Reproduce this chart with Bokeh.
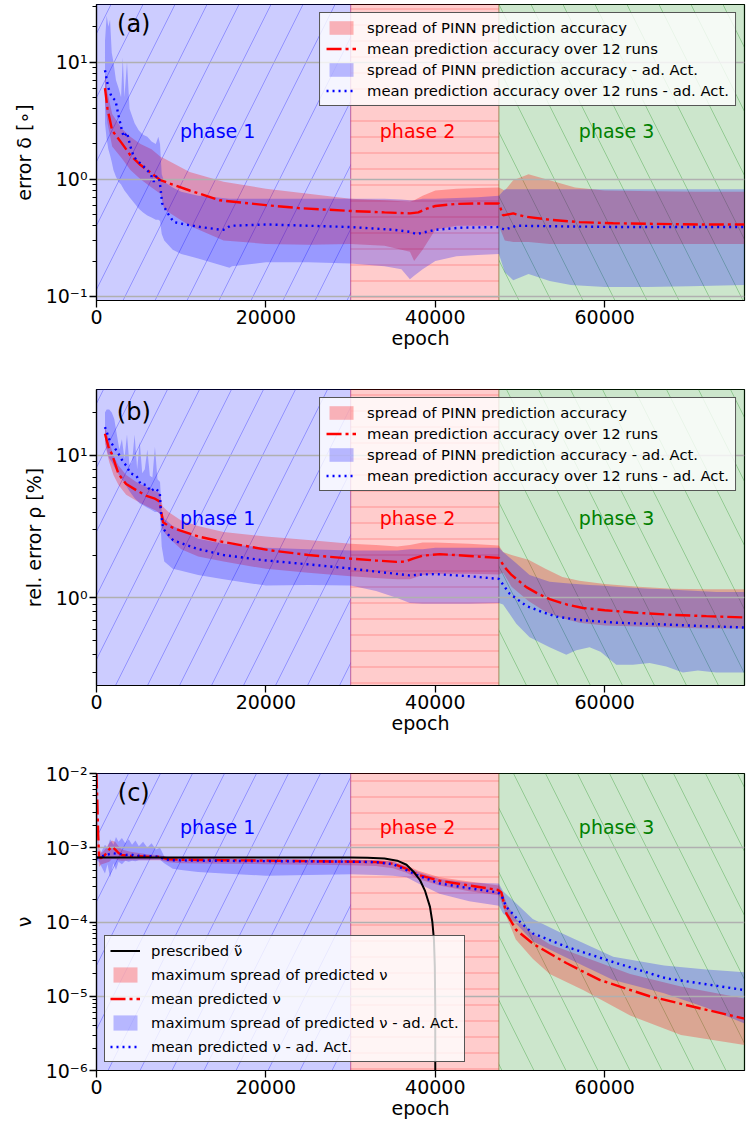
import numpy as np
from bokeh.plotting import figure
from bokeh.models import Range1d, FixedTicker, CustomJSTickFormatter, Legend, LegendItem, Label
from bokeh.layouts import column
from bokeh.embed import file_html
from bokeh.resources import INLINE

FONT = "DejaVu Sans"
X_MAX = 76500
phase_edges = [0, 30000, 47500, 76500]
phase_names = ["phase 1", "phase 2", "phase 3"]
phase_colors = ["blue", "red", "green"]
phase_text_colors = ["blue", "red", "green"]
phase_hatch = ["/", "-", "\\"]
phase_label_x = [14300, 37900, 61400]
x_ticks = [0, 20000, 40000, 60000]

# ---------------- panel (a): error delta ----------------
a_red_x = [1000, 1300, 1850, 3000, 4000, 5200, 6500, 7550, 11000, 14550, 20000, 24000, 30000, 34000, 37000,
           38000, 39000, 40000, 42500, 45000, 47500, 48000, 49200, 50500, 53500, 57000, 61000, 66000, 71000, 76500]
a_red_mean = [6.0, 4.0, 2.6, 2.02, 1.6, 1.32, 1.12, 0.98, 0.80, 0.66, 0.60, 0.565, 0.535, 0.52, 0.51,
              0.52, 0.56, 0.59, 0.615, 0.62, 0.62, 0.49, 0.51, 0.48, 0.45, 0.43, 0.42, 0.415, 0.41, 0.41]
a_redband_x = [1000, 1300, 1850, 3000, 4000, 5200, 6500, 7550, 8000, 11000, 15000, 20000, 25000, 30000, 34000, 37000,
               37500, 38500, 40000, 42500, 45000, 47500, 48200, 49200, 51000, 53500, 56500, 60000, 66000, 71000, 76500]
a_red_hi = [8.0, 5.5, 3.6, 2.7, 2.3, 2.0, 1.8, 1.55, 1.5, 1.15, 0.95, 0.83, 0.75, 0.68, 0.66, 0.64,
            0.66, 0.72, 0.80, 0.83, 0.84, 0.85, 0.80, 0.98, 1.10, 0.98, 0.85, 0.80, 0.79, 0.78, 0.78]
a_red_lo = [4.5, 3.0, 1.9, 1.5, 1.2, 1.0, 0.85, 0.75, 0.55, 0.40, 0.30, 0.28, 0.275, 0.28, 0.27, 0.24,
            0.20, 0.25, 0.37, 0.40, 0.40, 0.40, 0.30, 0.29, 0.29, 0.28, 0.28, 0.28, 0.28, 0.28, 0.28]
a_blue_x = [1000, 1400, 1800, 2240, 2600, 3000, 3220, 3600, 4000, 4400, 5000, 5500, 5980, 6400, 6760, 7000, 7350,
            7550, 7750, 8500, 9120, 10500, 12270, 14630, 15000, 15810, 20140, 25000, 30000, 32340, 35000, 37000,
            37760, 40120, 43000, 47500, 48200, 49560, 55000, 62000, 70000, 76500]
a_blue_mean = [8.5, 6.0, 5.0, 4.7, 3.5, 2.6, 2.3, 2.5, 1.9, 1.55, 1.4, 1.3, 1.19, 1.1, 0.95, 1.05, 1.05,
               0.85, 0.62, 0.50, 0.43, 0.41, 0.39, 0.37, 0.37, 0.40, 0.41, 0.40, 0.39, 0.38, 0.37, 0.355,
               0.34, 0.37, 0.385, 0.39, 0.37, 0.40, 0.395, 0.39, 0.39, 0.39]
a_blueband_x = [1000, 1200, 1400, 1600, 1800, 2000, 2300, 2600, 2900, 3100, 3300, 3600, 3900, 4500, 5000, 5500,
                6000, 6500, 7000, 7300, 7500, 7700, 8000, 9000, 10000, 12000, 14000, 15700, 16000, 20000, 25000,
                30000, 34000, 36000, 37000, 37500, 38500, 40000, 42500, 45000, 47500, 48200, 49200, 51000, 53500,
                56000, 60000, 65000, 70000, 76500]
a_blue_hi = [15, 25, 20, 23, 12, 10, 7, 6, 5, 11, 5, 10, 4, 3.0, 2.6, 2.4,
             2.3, 2.1, 2.0, 2.3, 2.0, 1.1, 0.95, 0.85, 0.78, 0.72, 0.70, 0.68, 0.68, 0.68, 0.68,
             0.68, 0.68, 0.67, 0.66, 0.66, 0.68, 0.68, 0.69, 0.70, 0.72, 0.82, 0.82, 0.82, 0.82,
             0.82, 0.82, 0.82, 0.82, 0.82]
a_blue_lo = [3.0, 2.2, 1.8, 1.6, 1.4, 1.2, 1.05, 0.95, 0.9, 0.85, 0.8, 0.75, 0.7, 0.62, 0.56, 0.52,
             0.49, 0.47, 0.45, 0.45, 0.44, 0.34, 0.30, 0.25, 0.23, 0.21, 0.19, 0.175, 0.18, 0.195, 0.195,
             0.19, 0.18, 0.17, 0.14, 0.15, 0.17, 0.20, 0.22, 0.225, 0.23, 0.16, 0.137, 0.155, 0.135,
             0.125, 0.12, 0.12, 0.122, 0.125]

# ---------------- panel (b): rel. error rho ----------------
b_red_x = [1000, 1500, 1800, 2600, 3500, 4700, 5900, 6800, 7470, 7650, 7870, 8500, 9830, 12000, 14950, 20450,
           25000, 29900, 33000, 35400, 36500, 37370, 38500, 40510, 44000, 47500, 48190, 49000, 50750, 52000,
           53500, 55500, 57440, 60000, 63340, 68000, 72000, 76500]
b_red_mean = [14.2, 11.0, 10.3, 7.4, 6.3, 5.7, 5.2, 5.0, 4.75, 4.0, 3.4, 3.2, 2.98, 2.7, 2.47, 2.16,
              2.0, 1.89, 1.83, 1.79, 1.80, 1.89, 1.98, 2.03, 1.97, 1.91, 1.64, 1.45, 1.19, 1.08,
              0.98, 0.9, 0.85, 0.82, 0.79, 0.76, 0.745, 0.73]
b_redband_x = [1000, 1500, 2000, 2600, 3500, 4700, 5900, 7000, 7500, 7800, 8500, 10000, 12000, 15000, 20000,
               25000, 30000, 33000, 35500, 37000, 38500, 40000, 44000, 47500, 48000, 49000, 51000, 53000, 55000,
               57000, 60000, 64000, 68000, 72000, 76500]
b_red_hi = [16, 12.5, 10, 8.5, 7.3, 6.5, 6.0, 5.6, 5.4, 4.4, 4.0, 3.5, 3.2, 2.9, 2.7,
            2.55, 2.4, 2.35, 2.3, 2.35, 2.45, 2.45, 2.4, 2.33, 2.1, 2.0, 1.85, 1.6, 1.4,
            1.32, 1.25, 1.2, 1.16, 1.15, 1.15]
b_red_lo = [12, 9, 7.3, 6.2, 5.3, 4.8, 4.4, 4.1, 3.9, 3.0, 2.65, 2.2, 1.95, 1.8, 1.6,
            1.5, 1.42, 1.38, 1.35, 1.35, 1.45, 1.48, 1.48, 1.46, 1.5, 1.2, 0.95, 0.8, 0.72,
            0.67, 0.64, 0.63, 0.62, 0.61, 0.61]
b_blue_x = [1000, 1500, 1800, 2500, 3140, 3500, 4000, 4720, 5200, 5900, 6400, 6900, 7470, 7600, 7870, 9050,
            11800, 15000, 19670, 25000, 29900, 33000, 36970, 38500, 40000, 44000, 47500, 48780, 50740, 52500,
            54300, 57000, 61360, 66000, 70000, 76500]
b_blue_mean = [15.8, 13, 12.1, 10.5, 9.0, 8.5, 7.5, 7.2, 6.3, 6.2, 5.6, 5.9, 5.5, 4.0, 3.06, 2.54,
               2.22, 2.0, 1.84, 1.72, 1.61, 1.53, 1.44, 1.46, 1.47, 1.42, 1.36, 1.07, 0.88, 0.80,
               0.74, 0.70, 0.67, 0.655, 0.64, 0.62]
b_blueband_x = [1000, 1200, 1500, 1800, 2100, 2400, 2700, 3000, 3300, 3600, 3900, 4200, 4500, 4800, 5100, 5400,
                5700, 6000, 6300, 6600, 6900, 7200, 7500,
                7700, 8000, 9000, 10000, 12000, 15000, 20000, 25000, 30000, 33000, 35500, 37000, 38500, 40000,
                44000, 47500,
                48000, 49560, 51130, 53490, 55460, 56640, 58210, 59500, 61360, 63330, 65290, 67260, 69230, 71000,
                73160, 76500]
b_blue_hi = [20, 21, 21, 20, 18, 14, 11, 13, 9.5, 14, 8.5, 9, 14, 8, 12.5, 7.5,
             8, 11, 7.2, 7, 11.5, 6.8, 6.5,
             4.0, 3.6, 3.2, 3.0, 2.6, 2.4, 2.25, 2.2, 2.15, 2.15, 2.15, 2.2, 2.2, 2.25,
             2.25, 2.25,
             2.1, 1.75, 1.45, 1.3, 1.27, 1.25, 1.23, 1.22, 1.2, 1.18, 1.16, 1.15, 1.13, 1.12,
             1.1, 1.1]
b_blue_lo = [13, 11, 9.5, 9.0, 8.3, 7.8, 7.2, 6.8, 6.4, 6.0, 5.6, 5.3, 5.0, 4.8, 4.6, 4.5,
             4.4, 4.3, 4.2, 4.1, 4.0, 4.0, 3.9,
             2.3, 1.8, 1.6, 1.55, 1.45, 1.35, 1.22, 1.23, 1.22, 1.12, 1.0, 0.92, 0.91, 0.91,
             0.91, 0.92,
             0.9, 0.66, 0.53, 0.45, 0.40, 0.43, 0.45, 0.42, 0.34, 0.34, 0.35, 0.33, 0.30, 0.31,
             0.30, 0.30]

# ---------------- panel (c): nu ----------------
c_presc_x = [0, 30000, 32000, 34000, 35500, 36600, 37400, 38200, 38800, 39370, 39650, 39840, 39940, 39990, 40000]
c_presc = [7.4e-4, 7.4e-4, 7.35e-4, 7.15e-4, 6.7e-4, 5.9e-4, 4.8e-4, 3.65e-4, 2.6e-4, 1.6e-4, 1.0e-4,
           5.7e-5, 2.5e-5, 7e-6, 1e-7]
c_red_x = [0, 100, 200, 300, 500, 800, 1200, 1500, 1800, 2200, 2600, 3000, 4000, 5000, 6000, 7000, 7500, 8500,
           10000, 15000, 20000, 25000, 30000, 33000, 35000, 36600, 38000, 40500, 43660, 47400, 47800, 48380,
           49560, 51530, 55460, 59390, 65290, 71190, 76500]
c_red_mean = [1e-2, 4e-3, 1.5e-3, 7.5e-4, 7.2e-4, 7.6e-4, 8.5e-4, 9.5e-4, 1.03e-3, 9.5e-4, 8.5e-4, 8.0e-4,
              7.8e-4, 7.7e-4, 7.6e-4, 7.6e-4, 7.5e-4, 7.0e-4, 6.9e-4, 6.8e-4, 6.7e-4, 6.6e-4, 6.5e-4, 6.4e-4,
              6.1e-4, 5.2e-4, 4.3e-4, 3.6e-4, 3.15e-4, 2.7e-4, 2.5e-4, 1.31e-4, 7.8e-5, 5.1e-5, 2.8e-5,
              1.66e-5, 1.0e-5, 6.9e-6, 5.0e-6]
c_redband_x = [0, 100, 200, 300, 600, 1000, 1500, 1800, 2200, 2600, 3000, 4000, 5000, 6000, 7000, 7500, 8500,
               10000, 15000, 20000, 25000, 30000, 33000, 35000, 36600, 38000, 40500, 44000, 47500, 48000, 48500,
               49500, 51500, 53500, 57500, 63000, 69000, 76500]
c_red_hi = [1.1e-2, 6e-3, 2e-3, 1.0e-3, 8.5e-4, 9.5e-4, 1.15e-3, 1.25e-3, 1.2e-3, 1.05e-3, 9.5e-4, 8.8e-4,
            8.5e-4, 8.2e-4, 8.0e-4, 7.9e-4, 7.4e-4, 7.3e-4, 7.2e-4, 7.1e-4, 7.0e-4, 6.9e-4, 6.8e-4, 6.6e-4,
            5.8e-4, 4.9e-4, 4.0e-4, 3.5e-4, 3.1e-4, 2.4e-4, 1.7e-4, 1.1e-4, 7.0e-5, 5.0e-5, 3.4e-5, 2.0e-5,
            1.35e-5, 9.3e-6]
c_red_lo = [6e-3, 2e-3, 8e-4, 5.5e-4, 6.0e-4, 6.2e-4, 6.5e-4, 7.0e-4, 7.0e-4, 6.8e-4, 6.7e-4, 6.8e-4,
            6.8e-4, 6.8e-4, 6.8e-4, 6.8e-4, 6.4e-4, 6.2e-4, 6.1e-4, 6.0e-4, 5.9e-4, 5.8e-4, 5.7e-4, 5.3e-4,
            4.6e-4, 3.8e-4, 3.1e-4, 2.6e-4, 2.3e-4, 1.6e-4, 1.1e-4, 5.8e-5, 3.2e-5, 2.0e-5, 1.2e-5, 5.5e-6,
            3.0e-6, 2.2e-6]
c_blue_x = [0, 200, 500, 1000, 1500, 2000, 2500, 3000, 3500, 4000, 4500, 5000, 5500, 6000, 6500, 7000, 7500,
            8000, 9000, 12000, 20000, 30000, 33000, 35000, 36600, 38000, 40550, 44000, 47400, 47800, 48380,
            50000, 51530, 55460, 61360, 67260, 72000, 76500]
c_blue_mean = [7.2e-4, 7.4e-4, 7.6e-4, 7.9e-4, 8.2e-4, 8.4e-4, 8.3e-4, 8.2e-4, 8.0e-4, 8.1e-4, 7.9e-4,
               7.8e-4, 7.8e-4, 7.7e-4, 7.7e-4, 7.6e-4, 7.5e-4, 7.0e-4, 6.8e-4, 6.7e-4, 6.6e-4, 6.5e-4,
               6.4e-4, 6.0e-4, 5.0e-4, 4.2e-4, 3.3e-4, 2.85e-4, 2.5e-4, 2.3e-4, 1.6e-4, 1.0e-4, 7.0e-5,
               4.65e-5, 2.8e-5, 1.74e-5, 1.45e-5, 1.21e-5]
c_blueband_x = [0, 300, 600, 1000, 1300, 1600, 2000, 2300, 2600, 3000, 3400, 3800, 4200, 4600, 5000, 5500,
                6000, 6500, 7000, 7500, 8000, 9000, 10000, 12000, 15000, 20000, 25000, 30000, 33000, 35000,
                36600, 38000, 40500, 44000, 47500, 48000, 49500, 51500, 55000, 61000, 67000, 72000, 76500]
c_blue_hi = [7.6e-4, 7.8e-4, 9e-4, 1.1e-3, 1.0e-3, 1.3e-3, 1.1e-3, 1.4e-3, 1.2e-3, 1.35e-3, 1.15e-3,
             1.3e-3, 1.1e-3, 1.25e-3, 1.05e-3, 1.2e-3, 1.0e-3, 1.15e-3, 9.5e-4, 1.0e-3, 7.6e-4, 7.4e-4,
             7.3e-4, 7.2e-4, 7.1e-4, 7.0e-4, 6.9e-4, 6.9e-4, 6.8e-4, 6.5e-4, 5.6e-4, 4.7e-4, 3.8e-4,
             3.4e-4, 3.3e-4, 2.6e-4, 1.8e-4, 1.1e-4, 7.0e-5, 3.4e-5, 2.6e-5, 2.3e-5, 2.1e-5]
c_blue_lo = [6.8e-4, 6.5e-4, 5.5e-4, 4.5e-4, 6.0e-4, 4.0e-4, 6.2e-4, 5.0e-4, 6.5e-4, 6.0e-4, 6.7e-4,
             6.5e-4, 6.7e-4, 6.6e-4, 6.8e-4, 6.8e-4, 6.8e-4, 6.9e-4, 6.9e-4, 6.9e-4, 6.2e-4, 5.2e-4,
             5.0e-4, 4.7e-4, 4.5e-4, 4.2e-4, 4.3e-4, 4.4e-4, 4.3e-4, 4.2e-4, 4.0e-4, 3.3e-4, 2.4e-4,
             1.9e-4, 1.65e-4, 1.3e-4, 9.6e-5, 5.5e-5, 3.5e-5, 1.66e-5, 1.1e-5, 7e-6, 4.3e-6]

legend_ab = ["spread of PINN prediction accuracy",
             "mean prediction accuracy over 12 runs",
             "spread of PINN prediction accuracy - ad. Act.",
             "mean prediction accuracy over 12 runs - ad. Act."]
legend_c = ["prescribed \u03bd\u0303",
            "maximum spread of predicted \u03bd",
            "mean predicted \u03bd",
            "maximum spread of predicted \u03bd - ad. Act.",
            "mean predicted \u03bd - ad. Act."]

SUP_JS = """
const e = Math.round(Math.log10(tick));
const sup = {"-": "\u207b", "0": "\u2070", "1": "\u00b9", "2": "\u00b2", "3": "\u00b3",
             "4": "\u2074", "5": "\u2075", "6": "\u2076", "7": "\u2077", "8": "\u2078", "9": "\u2079"};
return "10" + String(e).split("").map(c => sup[c]).join("");
"""


def make_panel(yr, exps, ylabel, top_border, bottom_border, frame_h, tag, tag_y, phase_y):
    p = figure(frame_width=648, frame_height=frame_h,
               x_range=Range1d(0, X_MAX), y_range=Range1d(yr[0], yr[1]),
               y_axis_type="log", output_backend="svg", toolbar_location=None,
               min_border_left=96, min_border_right=2,
               min_border_top=top_border, min_border_bottom=bottom_border,
               background_fill_color="white", border_fill_color="white")
    p.outline_line_color = "black"
    p.outline_line_width = 1.2
    p.outline_line_alpha = 1.0
    p.xgrid.visible = False
    p.ygrid.grid_line_color = "#b0b0b0"
    p.ygrid.grid_line_width = 1.4
    p.yaxis.ticker = FixedTicker(ticks=[10.0 ** e for e in exps],
                                 minor_ticks=[k * 10.0 ** e for e in range(exps[0] - 1, exps[-1] + 1)
                                              for k in range(2, 10)])
    p.yaxis.formatter = CustomJSTickFormatter(code=SUP_JS)
    p.xaxis.ticker = FixedTicker(ticks=x_ticks)
    p.xaxis.minor_tick_line_color = None
    for ax in (p.xaxis, p.yaxis):
        ax.major_label_text_font = FONT
        ax.major_label_text_font_size = "19px"
        ax.major_label_text_color = "black"
        ax.axis_label_text_font = FONT
        ax.axis_label_text_font_size = "19px"
        ax.axis_label_text_font_style = "normal"
        ax.axis_label_text_color = "black"
        ax.major_tick_out = 7
        ax.major_tick_in = 0
        ax.minor_tick_out = 4
        ax.minor_tick_in = 0
        ax.major_tick_line_width = 1.3
        ax.major_label_standoff = 2
        ax.axis_line_width = 1.2
    p.xaxis.axis_label = "epoch"
    p.xaxis.axis_label_standoff = 0
    p.yaxis.axis_label = ylabel
    p.yaxis.axis_label_standoff = 8

    hatch_scales = [64, 16, 64]
    for i in range(3):
        r = p.quad(left=[phase_edges[i]], right=[phase_edges[i + 1]], bottom=[yr[0]], top=[yr[1]],
                   fill_color=phase_colors[i], fill_alpha=0.2,
                   line_color=phase_colors[i], line_alpha=0.25, line_width=1.2,
                   hatch_pattern=phase_hatch[i], hatch_color=phase_colors[i], hatch_alpha=0.28,
                   hatch_scale=hatch_scales[i], hatch_weight=1.0)
        r.level = "image"
    for i in range(3):
        p.add_layout(Label(x=phase_label_x[i], y=phase_y, text=phase_names[i],
                           text_color=phase_text_colors[i], text_font=FONT, text_font_size="19px",
                           text_align="center", text_baseline="middle"))
    p.add_layout(Label(x=4400, y=tag_y, text=tag, text_color="black", text_font=FONT,
                       text_font_size="24px", text_align="center", text_baseline="middle"))
    return p


def add_series(p, red_band, red_mean, blue_band, blue_mean):
    rb = p.varea(x=red_band[0], y1=red_band[1], y2=red_band[2], fill_color="red", fill_alpha=0.28)
    rb.level = "image"
    bb = p.varea(x=blue_band[0], y1=blue_band[1], y2=blue_band[2], fill_color="blue", fill_alpha=0.25)
    bb.level = "image"
    rm = p.line(x=red_mean[0], y=red_mean[1], line_color="red", line_width=2.4, line_dash="15 4 3 4")
    bm = p.line(x=blue_mean[0], y=blue_mean[1], line_color="blue", line_width=2.4, line_dash="2 4")
    return rb, rm, bb, bm


def style_legend(leg):
    leg.label_text_font = FONT
    leg.label_text_font_size = "14.8px"
    leg.label_text_color = "black"
    leg.glyph_width = 30
    leg.label_standoff = 11
    leg.background_fill_color = "white"
    leg.background_fill_alpha = 0.8
    leg.border_line_color = "#444444"
    leg.border_line_alpha = 0.9
    leg.border_line_width = 1.3
    leg.margin = 8


# (a)
pa = make_panel((0.092, 31), [-1, 0, 1], "error \u03b4 [\u2218]", 4, 70, 296, "(a)", 21, 2.57)
ra = add_series(pa, (a_redband_x, a_red_lo, a_red_hi), (a_red_x, a_red_mean),
                (a_blueband_x, a_blue_lo, a_blue_hi), (a_blue_x, a_blue_mean))
leg_a = Legend(items=[LegendItem(label=legend_ab[i], renderers=[ra[i]]) for i in range(4)],
               location="top_right")
style_legend(leg_a)
leg_a.glyph_height = 17
leg_a.label_height = 17
leg_a.spacing = 4
leg_a.padding = 6
pa.add_layout(leg_a)

# (b)
pb = make_panel((0.243, 29), [0, 1], "rel. error \u03c1 [%]", 19, 55, 296, "(b)", 20.2, 3.66)
rbs = add_series(pb, (b_redband_x, b_red_lo, b_red_hi), (b_red_x, b_red_mean),
                 (b_blueband_x, b_blue_lo, b_blue_hi), (b_blue_x, b_blue_mean))
leg_b = Legend(items=[LegendItem(label=legend_ab[i], renderers=[rbs[i]]) for i in range(4)],
               location="top_right")
style_legend(leg_b)
leg_b.glyph_height = 17
leg_b.label_height = 17
leg_b.spacing = 4
leg_b.padding = 6
pb.add_layout(leg_b)

# (c)
pc = make_panel((1e-6, 1e-2), [-6, -5, -4, -3, -2], "\u03bd", 33, 59, 297, "(c)", 5.4e-3, 1.89e-3)
rcs = add_series(pc, (c_redband_x, c_red_lo, c_red_hi), (c_red_x, c_red_mean),
                 (c_blueband_x, c_blue_lo, c_blue_hi), (c_blue_x, c_blue_mean))
pr = pc.line(x=c_presc_x, y=c_presc, line_color="black", line_width=2)
leg_c = Legend(items=[LegendItem(label=legend_c[0], renderers=[pr])] +
               [LegendItem(label=legend_c[i + 1], renderers=[rcs[i]]) for i in range(4)],
               location="bottom_left")
style_legend(leg_c)
leg_c.glyph_height = 19
leg_c.label_height = 19
leg_c.spacing = 5
leg_c.padding = 5
pc.add_layout(leg_c)

layout = column(pa, pb, pc, spacing=0)
open("out.html", "w").write(file_html(layout, INLINE))
